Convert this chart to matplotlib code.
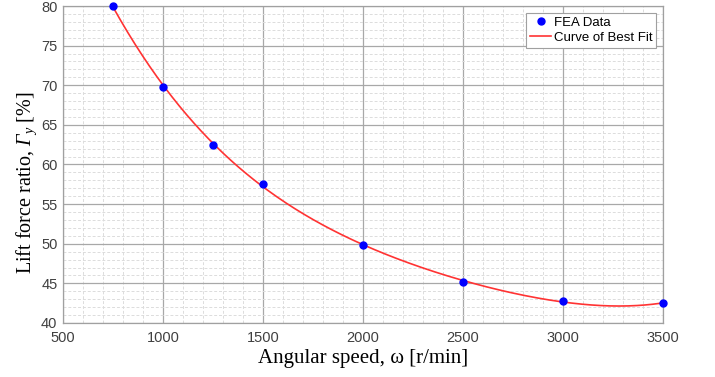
import numpy as np
import matplotlib
matplotlib.use("Agg")
import matplotlib.pyplot as plt
from matplotlib.ticker import MultipleLocator

# Data
speed = [750, 1000, 1250, 1500, 2000, 2500, 3000, 3500]
lift_ratio = [80.0, 69.8, 62.5, 57.6, 49.8, 45.2, 42.8, 42.5]
x_ticks = [500, 1000, 1500, 2000, 2500, 3000, 3500]
y_ticks = [40, 45, 50, 55, 60, 65, 70, 75, 80]

plt.rcParams['mathtext.fontset'] = 'custom'
plt.rcParams['mathtext.rm'] = 'Liberation Serif'
plt.rcParams['mathtext.it'] = 'Liberation Serif:italic'
plt.rcParams['mathtext.sf'] = 'Liberation Serif:italic'

fig = plt.figure(figsize=(7.15, 3.77), dpi=100)
ax = fig.add_axes([63/715, 1-323/377, 600/715, 317/377])

coef = np.polyfit(speed, lift_ratio, 4)
xf = np.linspace(min(speed), max(speed), 300)
ax.plot(xf, np.polyval(coef, xf), color='#ff3333', lw=1.2, label='Curve of Best Fit', zorder=3)
ax.plot(speed, lift_ratio, 'o', color='#0000ff', ms=5, label='FEA Data', zorder=4, clip_on=False)

ax.set_xlim(500, 3500)
ax.set_ylim(40, 80)
ax.set_xticks(x_ticks)
ax.set_yticks(y_ticks)
ax.xaxis.set_minor_locator(MultipleLocator(100))
ax.yaxis.set_minor_locator(MultipleLocator(1))
ax.grid(which='major', color='#a8a8a8', lw=0.9, ls='-')
ax.grid(which='minor', color='#dcdcdc', lw=0.7, ls=(0, (3, 2)))
ax.set_axisbelow(True)
for s in ax.spines.values():
    s.set_color('#a0a0a0')
    s.set_linewidth(0.9)
ax.tick_params(which='both', length=0, labelsize=10.5, labelcolor='#404040')
ax.tick_params(axis='x', pad=6)
ax.tick_params(axis='y', pad=4)
for lab in ax.get_xticklabels() + ax.get_yticklabels():
    lab.set_family('Liberation Sans')

ax.set_xlabel('Angular speed, ω [r/min]', fontsize=15, family='Liberation Serif')
ax.set_ylabel(r'Lift force ratio, $\mathsf{Γ}_{\mathit{y}}$ [%]', fontsize=14.5, family='Liberation Serif')
ax.xaxis.set_label_coords(0.5, -(363 - 323) / 317, transform=ax.transAxes)
ax.xaxis.label.set_va('baseline')
ax.yaxis.set_label_coords((27 - 63) / 600, (323 - 183) / 317, transform=ax.transAxes)
ax.yaxis.label.set_va('center')

h, l = ax.get_legend_handles_labels()
leg = ax.legend(h[::-1], l[::-1], loc='upper right', prop={'family': 'Liberation Sans', 'size': 9.5},
                frameon=True, fancybox=False, edgecolor='#a0a0a0', framealpha=1,
                borderpad=0.3, labelspacing=0.2, handlelength=1.6, handletextpad=0.2,
                borderaxespad=0.5)
leg.get_frame().set_linewidth(0.8)

fig.text(0.02, -0.01, 'Fig. 3.3 D FEA calculated lift force ratio, the Γy at different speeds',
         fontsize=14, family='Liberation Serif', va='top', color='#222222')

fig.savefig('out.png', dpi=100)
